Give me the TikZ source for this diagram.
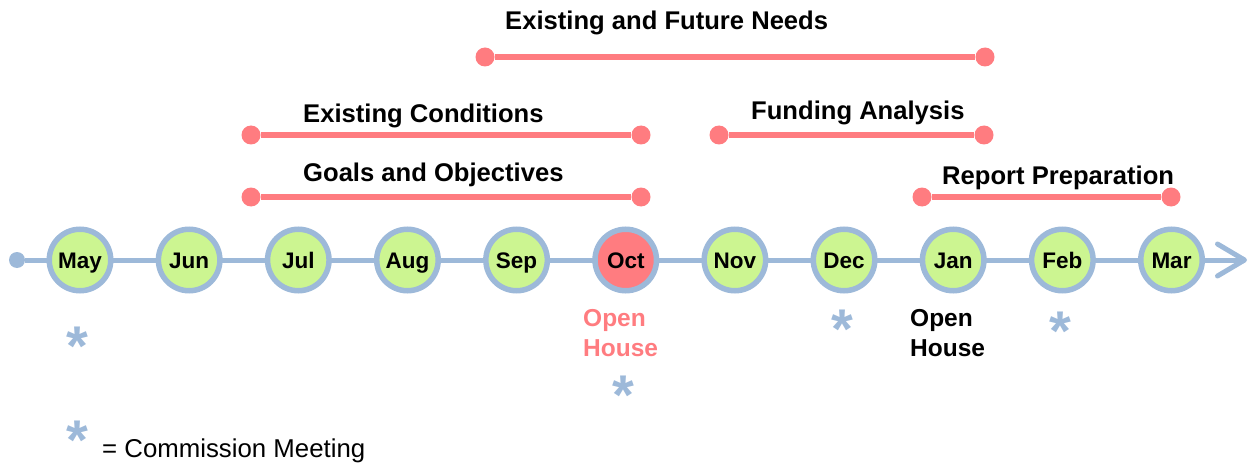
\documentclass[tikz,border=0pt]{standalone}
\usepackage{fontspec}
\setmainfont{Liberation Sans}
\usetikzlibrary{arrows.meta}
\definecolor{ringblue}{RGB}{157,185,217}
\definecolor{mgreen}{RGB}{204,245,145}
\definecolor{bred}{RGB}{255,124,128}
\begin{document}
\begin{tikzpicture}[x=1pt,y=-1pt,
  month/.style={circle, draw=ringblue, line width=5.5pt, fill=mgreen, minimum size=61.5pt, inner sep=0pt,
    text height=16pt, text depth=0pt, font=\bfseries\fontsize{22.5}{27}\selectfont},
  startdot/.style={circle, fill=ringblue, minimum size=16pt, inner sep=0pt},
  timeline/.style={draw=ringblue, line width=5pt, -{Straight Barb[length=27pt,width=32pt,round]}},
  bardot/.style={circle, fill=bred, minimum size=19pt, inner sep=0pt},
  bar/.style={draw=bred, line width=6pt},
  barlabel/.style={anchor=base west, inner sep=0pt, font=\bfseries\fontsize{25.6}{29}\selectfont},
  openhouse/.style={anchor=base west, inner sep=0pt, align=left, font=\bfseries\fontsize{24.5}{30}\selectfont},
  star/.style={anchor=north, inner sep=0pt, text=ringblue, font=\bfseries\fontsize{56}{60}\selectfont},
]
\useasboundingbox (0,0) rectangle (1248,468);

% timeline
\node[startdot] (start) at (17,260) {};
\coordinate (tlend) at (1247,260);
\draw[timeline] (start) -- (tlend);

% months
\node[month] (may) at (80,260) {May};
\node[month] (jun) at (189.15,260) {Jun};
\node[month] (jul) at (298.3,260) {Jul};
\node[month] (aug) at (407.45,260) {Aug};
\node[month] (sep) at (516.6,260) {Sep};
\node[month, fill=bred] (oct) at (625.75,260) {Oct};
\node[month] (nov) at (734.9,260) {Nov};
\node[month] (dec) at (844.05,260) {Dec};
\node[month] (jan) at (953.2,260) {Jan};
\node[month] (feb) at (1062.35,260) {Feb};
\node[month] (mar) at (1171.5,260) {Mar};

% bars
\node[bardot] (efnA) at (485,57) {};
\node[bardot] (efnB) at (985,57) {};
\draw[bar] (efnA) -- (efnB);
\node[barlabel] (efnL) at (505,30) {Existing and Future Needs};

\node[bardot] (ecA) at (251,135) {};
\node[bardot] (ecB) at (641,135) {};
\draw[bar] (ecA) -- (ecB);
\node[barlabel] (ecL) at (303,123) {Existing Conditions};

\node[bardot] (goA) at (251,197) {};
\node[bardot] (goB) at (641,197) {};
\draw[bar] (goA) -- (goB);
\node[barlabel] (goL) at (303,182) {Goals and Objectives};

\node[bardot] (faA) at (719,135) {};
\node[bardot] (faB) at (984,135) {};
\draw[bar] (faA) -- (faB);
\node[barlabel] (faL) at (751,120) {Funding Analysis};

\node[bardot] (rpA) at (922,197) {};
\node[bardot] (rpB) at (1171,197) {};
\draw[bar] (rpA) -- (rpB);
\node[barlabel] (rpL) at (942,185) {Report Preparation};

% open houses
\node[openhouse, text=bred] (oh1) at (583,356) {Open\\House};
\node[openhouse] (oh2) at (910,356) {Open\\House};

% commission meetings
\node[star] (s1) at (77,327) {*};
\node[star] (s2) at (842,310) {*};
\node[star] (s3) at (623,376) {*};
\node[star] (s4) at (1060,312) {*};
\node[star] (s5) at (77,421) {*};
\node[anchor=base west, inner sep=0pt, font=\fontsize{25.8}{30}\selectfont] (legend) at (102,457) {= Commission Meeting};
\end{tikzpicture}
\end{document}
